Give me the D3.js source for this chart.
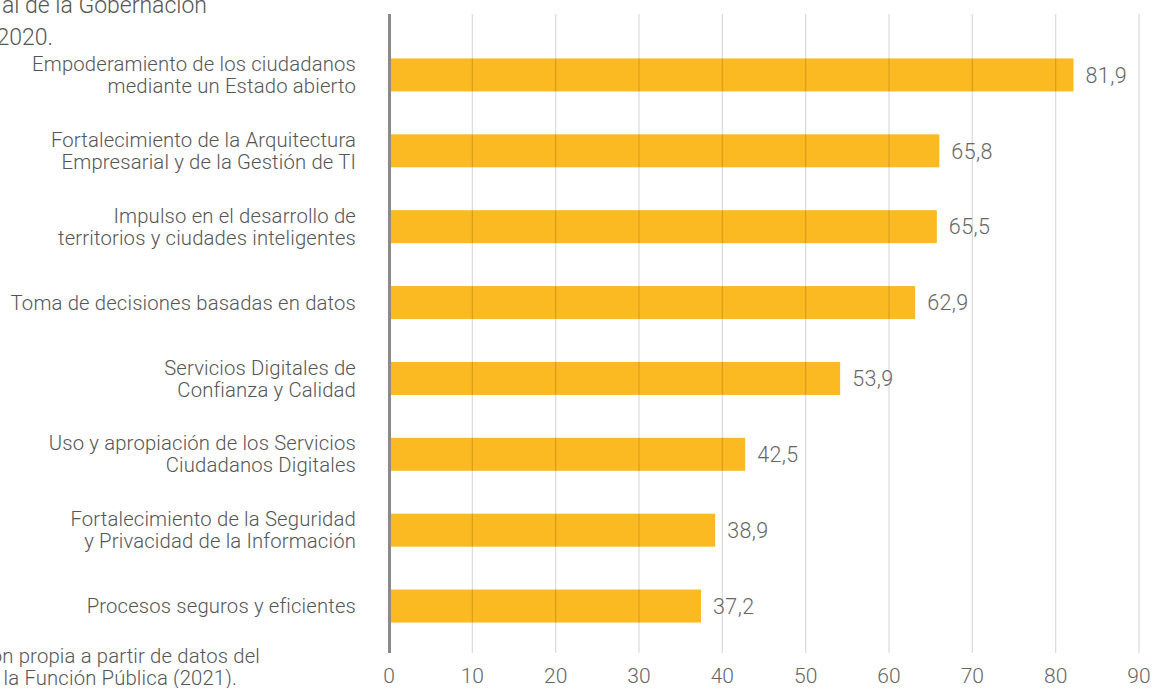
<!DOCTYPE html>
<html>
<head>
<meta charset="utf-8">
<script src="https://cdn.jsdelivr.net/npm/d3@7"></script>
<style>
  html, body { margin: 0; padding: 0; background: #fff; overflow: hidden; }
  text { font-family: Roboto, "Liberation Sans", sans-serif; font-weight: 300; }
</style>
</head>
<body>
<svg id="chart" width="1155" height="688"></svg>
<script>
var categories = [
    ["Empoderamiento de los ciudadanos", "mediante un Estado abierto"],
    ["Fortalecimiento de la Arquitectura", "Empresarial y de la Gestión de TI"],
    ["Impulso en el desarrollo de", "territorios y ciudades inteligentes"],
    ["Toma de decisiones basadas en datos"],
    ["Servicios Digitales de", "Confianza y Calidad"],
    ["Uso y apropiación de los Servicios", "Ciudadanos Digitales"],
    ["Fortalecimiento de la Seguridad", "y Privacidad de la Información"],
    ["Procesos seguros y eficientes"]
];
var values = [81.9, 65.8, 65.5, 62.9, 53.9, 42.5, 38.9, 37.2];
var x_ticks = [0, 10, 20, 30, 40, 50, 60, 70, 80, 90];
var title_lines = ["al de la Gobernación", "2020."];
var source_lines = ["ón propia a partir de datos del", " la Función Pública (2021)."];

var svg = d3.select("#chart");

var x = d3.scaleLinear().domain([0, 90]).range([389, 1139]);
var y = d3.scaleBand()
    .domain(d3.range(values.length))
    .range([37, 644])
    .paddingInner(0.565)
    .paddingOuter(0.2825);

var fmt = function(v) {
    return v.toFixed(1).replace(".", ",");
};

// bars
svg.selectAll(".bar")
    .data(values)
    .enter().append("rect")
    .attr("class", "bar")
    .attr("x", x(0) + 2)
    .attr("y", function(d, i) { return y(i); })
    .attr("width", function(d) { return x(d) - x(0); })
    .attr("height", y.bandwidth())
    .attr("fill", "#fbba22");

// grid lines sit on top of the bars, faintly
svg.selectAll(".grid")
    .data(x_ticks.slice(1))
    .enter().append("line")
    .attr("class", "grid")
    .attr("x1", function(d) { return x(d); })
    .attr("x2", function(d) { return x(d); })
    .attr("y1", 14)
    .attr("y2", 653)
    .attr("stroke", "#000")
    .attr("stroke-opacity", 0.15)
    .attr("stroke-width", 1.2);

// zero line
svg.append("line")
    .attr("x1", x(0) + 0.5)
    .attr("x2", x(0) + 0.5)
    .attr("y1", 14)
    .attr("y2", 653)
    .attr("stroke", "#8a8a8a")
    .attr("stroke-width", 3);

// tick labels
svg.selectAll(".tick-label")
    .data(x_ticks)
    .enter().append("text")
    .attr("class", "tick-label")
    .attr("x", function(d) { return x(d); })
    .attr("y", 683)
    .attr("text-anchor", "middle")
    .attr("font-size", 21)
    .attr("fill", "#666")
    .text(function(d) { return d; });

// value labels
svg.selectAll(".value")
    .data(values)
    .enter().append("text")
    .attr("class", "value")
    .attr("x", function(d) { return x(d) + 14; })
    .attr("y", function(d, i) { return y(i) + y.bandwidth() / 2; })
    .attr("dy", "0.36em")
    .attr("font-size", 21.5)
    .attr("letter-spacing", 0.4)
    .attr("fill", "#666")
    .text(fmt);

// category labels
var cat = svg.selectAll(".cat")
    .data(categories)
    .enter().append("text")
    .attr("class", "cat")
    .attr("text-anchor", "end")
    .attr("font-size", 20.3)
    .attr("letter-spacing", 0.15)
    .attr("fill", "#555")
    .attr("transform", function(d, i) {
        return "translate(356," + (y(i) + y.bandwidth() / 2) + ")";
    });

cat.each(function(lines) {
    var t = d3.select(this);
    var n = lines.length;
    lines.forEach(function(s, k) {
        t.append("tspan")
            .attr("x", 0)
            .attr("y", (k - (n - 1) / 2) * 22)
            .attr("dy", "0.35em")
            .text(s);
    });
});

// clipped title and source text at the edges
svg.selectAll(".title")
    .data(title_lines)
    .enter().append("text")
    .attr("class", "title")
    .attr("x", function(d, i) { return i === 0 ? 207 : 53; })
    .attr("y", function(d, i) { return 13 + i * 32; })
    .attr("text-anchor", "end")
    .attr("font-size", 23)
    .attr("fill", "#555")
    .text(function(d) { return d; });

svg.selectAll(".source")
    .data(source_lines)
    .enter().append("text")
    .attr("class", "source")
    .attr("x", function(d, i) { return i === 0 ? 260 : 237; })
    .attr("y", function(d, i) { return 663 + i * 22; })
    .attr("text-anchor", "end")
    .attr("font-size", 20.3)
    .attr("letter-spacing", 0.15)
    .attr("fill", "#555")
    .text(function(d) { return d; });
</script>
</body>
</html>
